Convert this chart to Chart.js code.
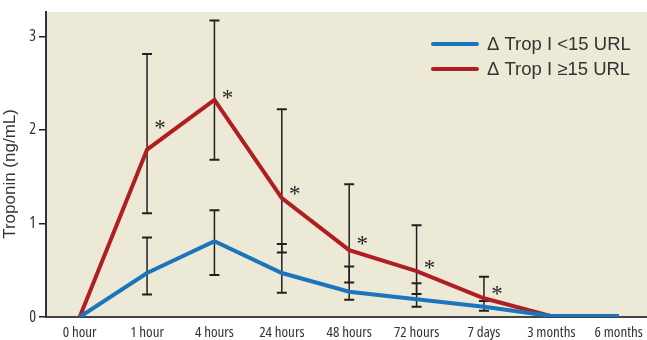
<!DOCTYPE html>
<html><head><meta charset="utf-8">
<script src="https://cdn.jsdelivr.net/npm/chart.js@4"></script>
<style>html,body{margin:0;padding:0;background:#fff}#wrap{width:647px;height:340px}</style>
</head><body><div id="wrap"><canvas id="c" width="647" height="340"></canvas></div>
<script>
const categories = ['0 hour','1 hour','4 hours','24 hours','48 hours','72 hours','7 days','3 months','6 months'];
const blueValues = [0, 0.47, 0.81, 0.47, 0.27, 0.19, 0.11, 0.01, 0.01];
const redValues  = [0, 1.79, 2.32, 1.27, 0.715, 0.49, 0.20, 0.01, 0.01];
const blueUpper = [null, 0.85, 1.14, 0.78, 0.54, 0.36, 0.17, null, null];
const blueLower = [null, 0.24, 0.45, 0.26, 0.185, 0.11, 0.067, null, null];
const redUpper  = [null, 2.81, 3.17, 2.22, 1.42, 0.98, 0.43, null, null];
const redLower  = [null, 1.11, 1.68, 0.69, 0.37, 0.245, 0.17, null, null];
const asteriskY = [null, 2.05, 2.37, 1.35, 0.81, 0.56, 0.28, null, null];
const yTicks = [0, 1, 2, 3];
const seriesLabels = ['\u0394 Trop I <15 URL', '\u0394 Trop I \u226515 URL'];
const yTitle = 'Troponin (ng/mL)';

const NARROW = "'Open Sans', sans-serif";
const DARK = '#231f20';

const bgPlugin = {
  id: 'bg',
  beforeDraw(chart) {
    const {ctx, chartArea: a} = chart;
    ctx.save(); ctx.fillStyle = '#ede9d7';
    ctx.fillRect(a.left, a.top, a.right - a.left, a.bottom - a.top);
    ctx.restore();
  }
};
const errPlugin = {
  id: 'err',
  beforeDatasetsDraw(chart) {
    const {ctx, scales: {x, y}} = chart;
    ctx.save(); ctx.strokeStyle = DARK;
    const bar = (i, hi, lo) => {
      if (hi == null) return;
      const px = x.getPixelForValue(i), t = y.getPixelForValue(hi), b = y.getPixelForValue(lo);
      ctx.lineWidth = 1.5;
      ctx.beginPath(); ctx.moveTo(px, t); ctx.lineTo(px, b); ctx.stroke();
      ctx.lineWidth = 2;
      ctx.beginPath(); ctx.moveTo(px - 5, t); ctx.lineTo(px + 5, t);
      ctx.moveTo(px - 5, b); ctx.lineTo(px + 5, b); ctx.stroke();
    };
    categories.forEach((c, i) => { bar(i, redUpper[i], redLower[i]); bar(i, blueUpper[i], blueLower[i]); });
    ctx.restore();
  },
  afterDatasetsDraw(chart) {
    const {ctx, scales: {x, y}} = chart;
    ctx.save(); ctx.fillStyle = DARK;
    ctx.font = "23px 'Liberation Serif', serif";
    ctx.textAlign = 'center'; ctx.textBaseline = 'alphabetic';
    asteriskY.forEach((v, i) => {
      if (v == null) return;
      ctx.fillText('*', x.getPixelForValue(i) + 13, y.getPixelForValue(v) + 10);
    });
    // legend
    const cols = chart.data.datasets.map(d => d.borderColor);
    ctx.font = "18.5px 'Liberation Sans', sans-serif";
    ctx.textAlign = 'left'; ctx.textBaseline = 'middle';
    chart.data.datasets.forEach((d, k) => {
      const yy = 44 + k * 25;
      ctx.strokeStyle = cols[k]; ctx.lineWidth = 4; ctx.lineCap = 'round';
      ctx.beginPath(); ctx.moveTo(433, yy); ctx.lineTo(477, yy); ctx.stroke();
      ctx.fillStyle = '#333'; ctx.fillText(d.label, 487, yy + 1);
    });
    ctx.restore();
  }
};

new Chart(document.getElementById('c'), {
  type: 'line',
  data: {
    datasets: [
      {label: seriesLabels[0], data: categories.map((c, i) => ({x: i, y: blueValues[i]})), borderColor: '#1a75bc', borderWidth: 4, pointRadius: 0, tension: 0},
      {label: seriesLabels[1], data: categories.map((c, i) => ({x: i, y: redValues[i]})), borderColor: '#b01e24', borderWidth: 4, pointRadius: 0, tension: 0}
    ]
  },
  plugins: [bgPlugin, errPlugin],
  options: {
    responsive: false, animation: false,
    layout: {padding: {top: 12, right: 0, left: 0, bottom: 0}},
    plugins: {legend: {display: false}, tooltip: {enabled: false}},
    scales: {
      x: {
        type: 'linear', min: -0.5, max: 8.42,
        afterFit(s) { s.height = 23; s.paddingRight = 0; s.paddingLeft = 0; },
        afterBuildTicks(s) { s.ticks = categories.map((c, i) => ({value: i})); },
        ticks: {autoSkip: false, maxRotation: 0, padding: 7, color: '#333', font: {family: NARROW, weight: 'condensed', size: 15},
          callback: (v) => categories[v]},
        grid: {display: false, drawTicks: false},
        border: {display: true, color: '#444', width: 2}
      },
      y: {
        min: 0, max: 3.26,
        afterFit(s) { s.width = 46; s.paddingTop = 0; },
        afterBuildTicks(s) { s.ticks = yTicks.map(v => ({value: v})); },
        ticks: {color: '#333', padding: 3, font: {family: NARROW, weight: 'condensed', size: 16}},
        grid: {display: true, drawOnChartArea: false, drawTicks: true, tickLength: 7, color: DARK, lineWidth: 1.5},
        border: {display: true, color: '#333', width: 2},
        title: {display: true, text: yTitle + '\u00a0\u00a0\u00a0\u00a0', color: '#333', padding: {top: 0, bottom: 1}, font: {family: "'Liberation Sans', sans-serif", size: 17}}
      }
    }
  }
});
</script></body></html>
